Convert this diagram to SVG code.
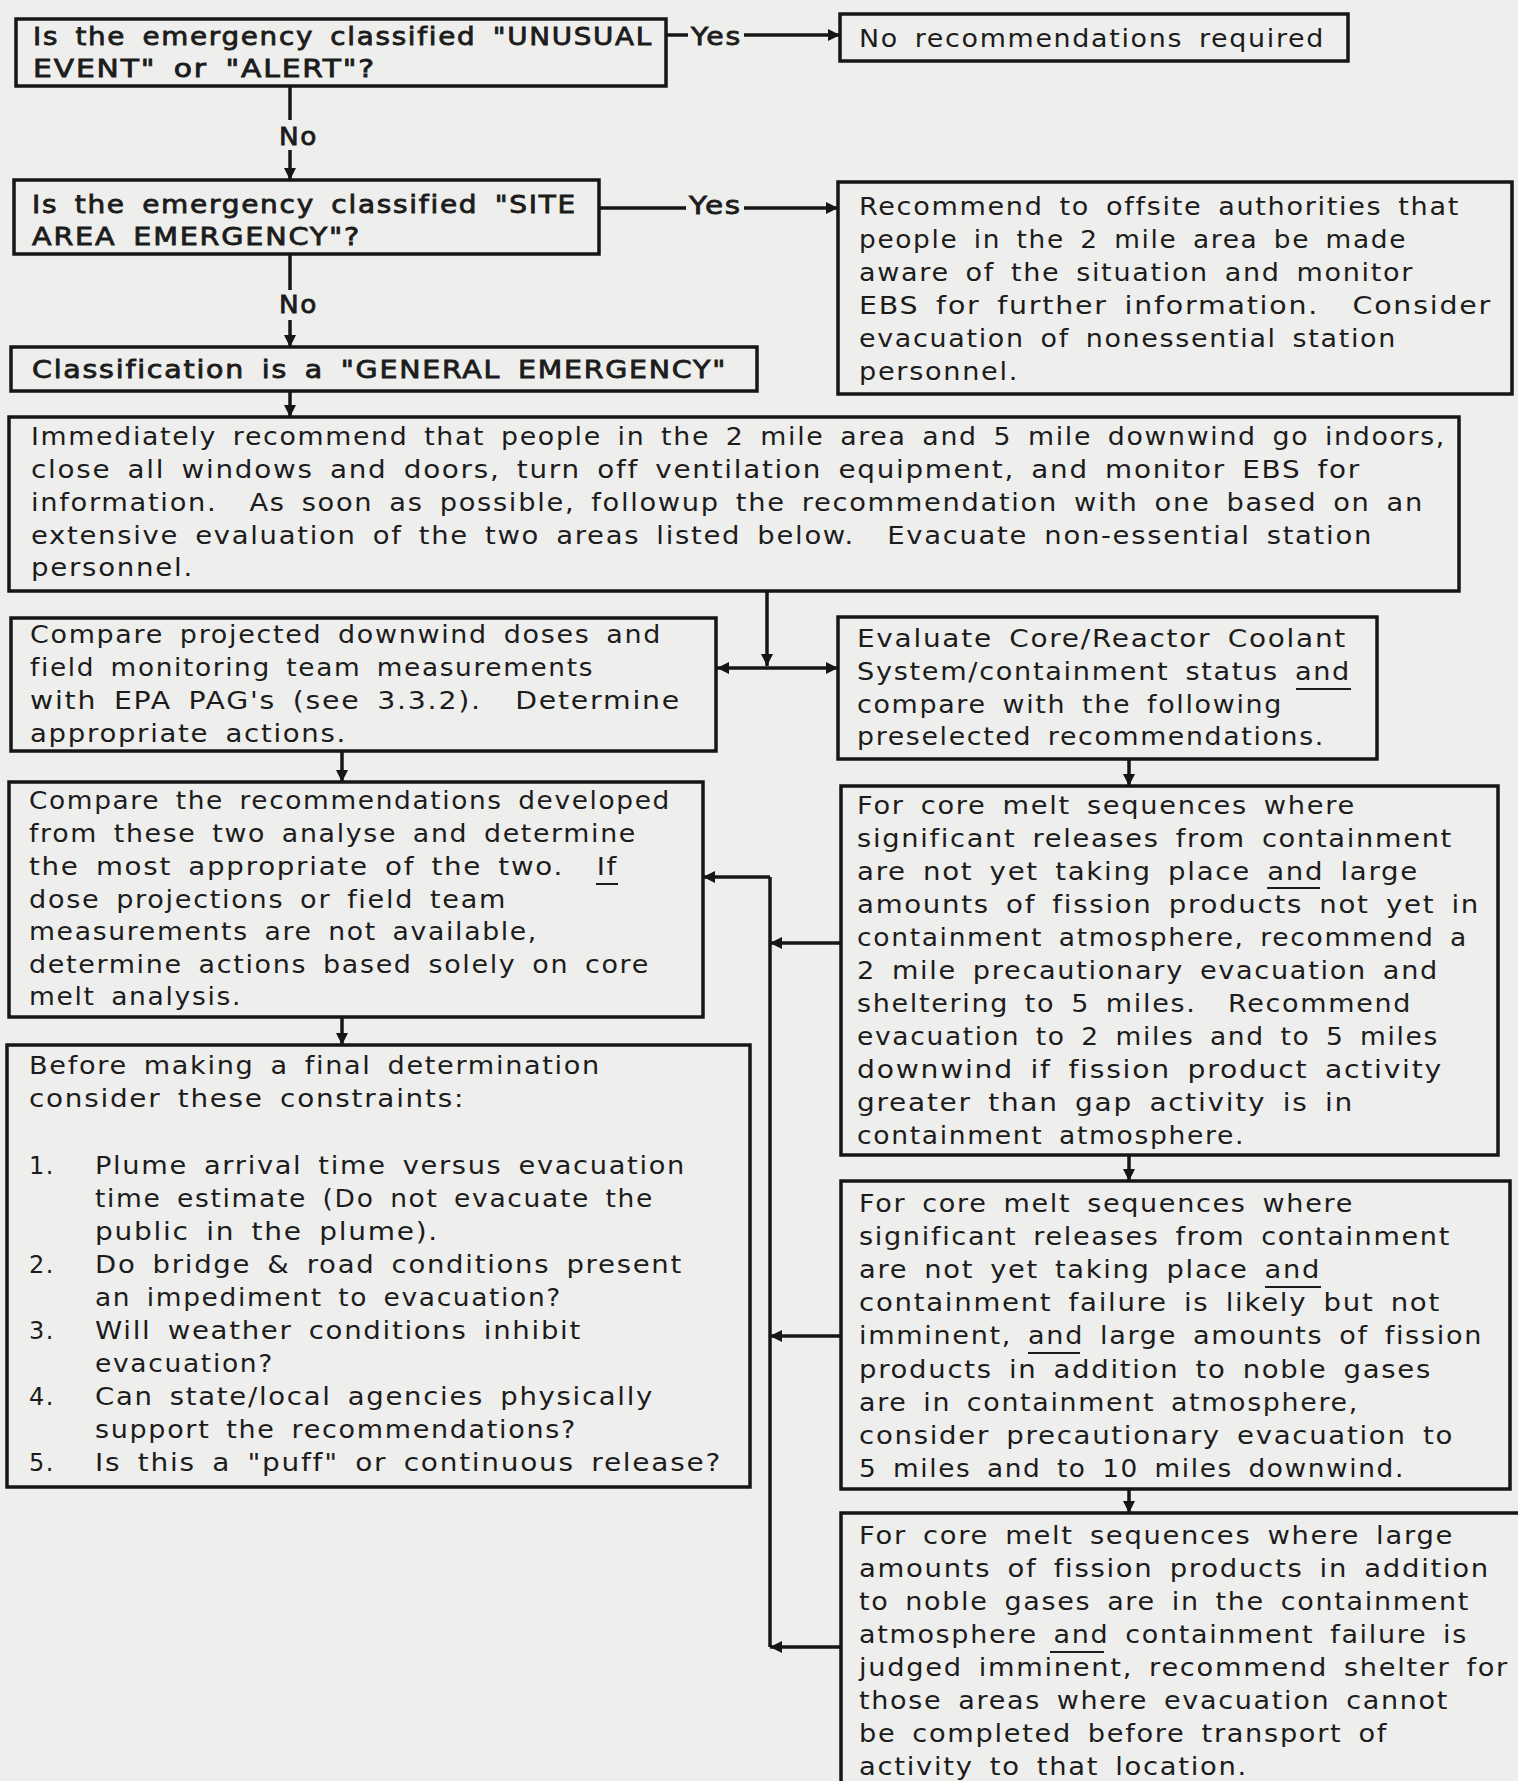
<svg xmlns="http://www.w3.org/2000/svg" width="1518" height="1781" viewBox="0 0 1518 1781">
<style>
.bx{fill:none;stroke:#161616;stroke-width:3.5}
.t{font-family:"DejaVu Sans",sans-serif;font-size:24px;fill:#1c1c1c;letter-spacing:1.5px;word-spacing:5px;white-space:pre}
.hv{stroke:#1c1c1c;stroke-width:0.8}
.cn{stroke:#161616;stroke-width:3.5;fill:none}
.ul{stroke:#1c1c1c;stroke-width:2}
</style>
<defs>
<marker id="ah" viewBox="0 0 10 10" refX="10" refY="5" markerWidth="15" markerHeight="12" markerUnits="userSpaceOnUse" orient="auto">
<path d="M0,0 L10,5 L0,10 z" fill="#161616"/>
</marker>
</defs>
<rect width="1518" height="1781" fill="#eeeeec"/>

<g id="connectors">
<path class="cn" d="M666,35 H688"/>
<path class="cn" d="M744,35 H840" marker-end="url(#ah)"/>
<path class="cn" d="M290,86 V120"/>
<path class="cn" d="M290,150 V180" marker-end="url(#ah)"/>
<path class="cn" d="M599,208 H686"/>
<path class="cn" d="M744,208 H838" marker-end="url(#ah)"/>
<path class="cn" d="M290,255 V290"/>
<path class="cn" d="M290,320 V347" marker-end="url(#ah)"/>
<path class="cn" d="M290,391 V417" marker-end="url(#ah)"/>
<path class="cn" d="M767,591 V666" marker-end="url(#ah)"/>
<path class="cn" d="M767,668 H717" marker-end="url(#ah)"/>
<path class="cn" d="M767,668 H838" marker-end="url(#ah)"/>
<path class="cn" d="M342,751 V782" marker-end="url(#ah)"/>
<path class="cn" d="M1129,759 V786" marker-end="url(#ah)"/>
<path class="cn" d="M1129,1155 V1181" marker-end="url(#ah)"/>
<path class="cn" d="M1129,1489 V1513" marker-end="url(#ah)"/>
<path class="cn" d="M342,1017 V1045" marker-end="url(#ah)"/>
<path class="cn" d="M770,877 V1647"/>
<path class="cn" d="M770,877 H703" marker-end="url(#ah)"/>
<path class="cn" d="M841,943 H770" marker-end="url(#ah)"/>
<path class="cn" d="M841,1336 H770" marker-end="url(#ah)"/>
<path class="cn" d="M841,1647 H770" marker-end="url(#ah)"/>
<text class="t hv" x="691" y="45" textLength="51" lengthAdjust="spacingAndGlyphs">Yes</text>
<text class="t hv" x="689" y="214" textLength="53" lengthAdjust="spacingAndGlyphs">Yes</text>
<text class="t hv" x="279" y="145" textLength="39" lengthAdjust="spacingAndGlyphs">No</text>
<text class="t hv" x="279" y="313" textLength="39" lengthAdjust="spacingAndGlyphs">No</text>
</g>

<g id="nodeA">
<rect class="bx" x="16" y="19" width="650" height="67"/>
<text class="t hv" x="33" y="45" textLength="620" lengthAdjust="spacingAndGlyphs">Is the emergency classified "UNUSUAL</text>
<text class="t hv" x="33" y="77" textLength="343" lengthAdjust="spacingAndGlyphs">EVENT" or "ALERT"?</text>
</g>

<g id="nodeB">
<rect class="bx" x="840" y="14" width="508" height="47"/>
<text class="t" x="859" y="47" textLength="466" lengthAdjust="spacingAndGlyphs">No recommendations required</text>
</g>

<g id="nodeC">
<rect class="bx" x="14" y="180" width="585" height="74"/>
<text class="t hv" x="32" y="213" textLength="545" lengthAdjust="spacingAndGlyphs">Is the emergency classified "SITE</text>
<text class="t hv" x="32" y="245" textLength="329" lengthAdjust="spacingAndGlyphs">AREA EMERGENCY"?</text>
</g>

<g id="nodeD">
<rect class="bx" x="838" y="182" width="674" height="212"/>
<text class="t" x="859" y="215" textLength="601" lengthAdjust="spacingAndGlyphs">Recommend to offsite authorities that</text>
<text class="t" x="859" y="248" textLength="548" lengthAdjust="spacingAndGlyphs">people in the 2 mile area be made</text>
<text class="t" x="859" y="281" textLength="555" lengthAdjust="spacingAndGlyphs">aware of the situation and monitor</text>
<text class="t" x="859" y="314" textLength="633" lengthAdjust="spacingAndGlyphs">EBS for further information.  Consider</text>
<text class="t" x="859" y="347" textLength="538" lengthAdjust="spacingAndGlyphs">evacuation of nonessential station</text>
<text class="t" x="859" y="380" textLength="160" lengthAdjust="spacingAndGlyphs">personnel.</text>
</g>

<g id="nodeE">
<rect class="bx" x="11" y="347" width="746" height="44"/>
<text class="t hv" x="32" y="378" textLength="695" lengthAdjust="spacingAndGlyphs">Classification is a "GENERAL EMERGENCY"</text>
</g>

<g id="nodeF">
<rect class="bx" x="9" y="417" width="1450" height="174"/>
<text class="t" x="31" y="445" textLength="1415" lengthAdjust="spacingAndGlyphs">Immediately recommend that people in the 2 mile area and 5 mile downwind go indoors,</text>
<text class="t" x="31" y="478" textLength="1330" lengthAdjust="spacingAndGlyphs">close all windows and doors, turn off ventilation equipment, and monitor EBS for</text>
<text class="t" x="31" y="511" textLength="1393" lengthAdjust="spacingAndGlyphs">information.  As soon as possible, followup the recommendation with one based on an</text>
<text class="t" x="31" y="544" textLength="1342" lengthAdjust="spacingAndGlyphs">extensive evaluation of the two areas listed below.  Evacuate non-essential station</text>
<text class="t" x="31" y="576" textLength="163" lengthAdjust="spacingAndGlyphs">personnel.</text>
</g>

<g id="nodeG">
<rect class="bx" x="11" y="618" width="705" height="133"/>
<text class="t" x="30" y="643" textLength="632" lengthAdjust="spacingAndGlyphs">Compare projected downwind doses and</text>
<text class="t" x="30" y="676" textLength="564" lengthAdjust="spacingAndGlyphs">field monitoring team measurements</text>
<text class="t" x="30" y="709" textLength="651" lengthAdjust="spacingAndGlyphs">with EPA PAG's (see 3.3.2).  Determine</text>
<text class="t" x="30" y="742" textLength="317" lengthAdjust="spacingAndGlyphs">appropriate actions.</text>
</g>

<g id="nodeH">
<rect class="bx" x="838" y="617" width="539" height="142"/>
<text class="t" x="857" y="647" textLength="490" lengthAdjust="spacingAndGlyphs">Evaluate Core/Reactor Coolant</text>
<text class="t" x="857" y="680" textLength="494" lengthAdjust="spacingAndGlyphs">System/containment status and</text>
<line class="ul" x1="1296" y1="689" x2="1351" y2="689"/>
<text class="t" x="857" y="713" textLength="426" lengthAdjust="spacingAndGlyphs">compare with the following</text>
<text class="t" x="857" y="745" textLength="468" lengthAdjust="spacingAndGlyphs">preselected recommendations.</text>
</g>

<g id="nodeI">
<rect class="bx" x="9" y="782" width="694" height="235"/>
<text class="t" x="29" y="809" textLength="642" lengthAdjust="spacingAndGlyphs">Compare the recommendations developed</text>
<text class="t" x="29" y="842" textLength="608" lengthAdjust="spacingAndGlyphs">from these two analyse and determine</text>
<text class="t" x="29" y="875" textLength="589" lengthAdjust="spacingAndGlyphs">the most appropriate of the two.  If</text>
<line class="ul" x1="596" y1="884" x2="618" y2="884"/>
<text class="t" x="29" y="908" textLength="478" lengthAdjust="spacingAndGlyphs">dose projections or field team</text>
<text class="t" x="29" y="940" textLength="509" lengthAdjust="spacingAndGlyphs">measurements are not available,</text>
<text class="t" x="29" y="973" textLength="621" lengthAdjust="spacingAndGlyphs">determine actions based solely on core</text>
<text class="t" x="29" y="1005" textLength="213" lengthAdjust="spacingAndGlyphs">melt analysis.</text>
</g>

<g id="nodeJ">
<rect class="bx" x="841" y="786" width="657" height="369"/>
<text class="t" x="857" y="814" textLength="499" lengthAdjust="spacingAndGlyphs">For core melt sequences where</text>
<text class="t" x="857" y="847" textLength="596" lengthAdjust="spacingAndGlyphs">significant releases from containment</text>
<text class="t" x="857" y="880" textLength="562" lengthAdjust="spacingAndGlyphs">are not yet taking place and large</text>
<line class="ul" x1="1267" y1="888" x2="1320" y2="888"/>
<text class="t" x="857" y="913" textLength="623" lengthAdjust="spacingAndGlyphs">amounts of fission products not yet in</text>
<text class="t" x="857" y="946" textLength="611" lengthAdjust="spacingAndGlyphs">containment atmosphere, recommend a</text>
<text class="t" x="857" y="979" textLength="582" lengthAdjust="spacingAndGlyphs">2 mile precautionary evacuation and</text>
<text class="t" x="857" y="1012" textLength="555" lengthAdjust="spacingAndGlyphs">sheltering to 5 miles.  Recommend</text>
<text class="t" x="857" y="1045" textLength="582" lengthAdjust="spacingAndGlyphs">evacuation to 2 miles and to 5 miles</text>
<text class="t" x="857" y="1078" textLength="586" lengthAdjust="spacingAndGlyphs">downwind if fission product activity</text>
<text class="t" x="857" y="1111" textLength="497" lengthAdjust="spacingAndGlyphs">greater than gap activity is in</text>
<text class="t" x="857" y="1144" textLength="388" lengthAdjust="spacingAndGlyphs">containment atmosphere.</text>
</g>

<g id="nodeK">
<rect class="bx" x="841" y="1181" width="669" height="308"/>
<text class="t" x="859" y="1212" textLength="495" lengthAdjust="spacingAndGlyphs">For core melt sequences where</text>
<text class="t" x="859" y="1245" textLength="592" lengthAdjust="spacingAndGlyphs">significant releases from containment</text>
<text class="t" x="859" y="1278" textLength="462" lengthAdjust="spacingAndGlyphs">are not yet taking place and</text>
<line class="ul" x1="1265" y1="1287" x2="1321" y2="1287"/>
<text class="t" x="859" y="1311" textLength="582" lengthAdjust="spacingAndGlyphs">containment failure is likely but not</text>
<text class="t" x="859" y="1344" textLength="624" lengthAdjust="spacingAndGlyphs">imminent, and large amounts of fission</text>
<line class="ul" x1="1028" y1="1353" x2="1080" y2="1353"/>
<text class="t" x="859" y="1378" textLength="573" lengthAdjust="spacingAndGlyphs">products in addition to noble gases</text>
<text class="t" x="859" y="1411" textLength="500" lengthAdjust="spacingAndGlyphs">are in containment atmosphere,</text>
<text class="t" x="859" y="1444" textLength="595" lengthAdjust="spacingAndGlyphs">consider precautionary evacuation to</text>
<text class="t" x="859" y="1477" textLength="546" lengthAdjust="spacingAndGlyphs">5 miles and to 10 miles downwind.</text>
</g>

<g id="nodeL">
<rect class="bx" x="841" y="1513" width="720" height="320"/>
<text class="t" x="859" y="1544" textLength="595" lengthAdjust="spacingAndGlyphs">For core melt sequences where large</text>
<text class="t" x="859" y="1577" textLength="631" lengthAdjust="spacingAndGlyphs">amounts of fission products in addition</text>
<text class="t" x="859" y="1610" textLength="611" lengthAdjust="spacingAndGlyphs">to noble gases are in the containment</text>
<text class="t" x="859" y="1643" textLength="609" lengthAdjust="spacingAndGlyphs">atmosphere and containment failure is</text>
<line class="ul" x1="1050" y1="1652" x2="1104" y2="1652"/>
<text class="t" x="859" y="1676" textLength="650" lengthAdjust="spacingAndGlyphs">judged imminent, recommend shelter for</text>
<text class="t" x="859" y="1709" textLength="590" lengthAdjust="spacingAndGlyphs">those areas where evacuation cannot</text>
<text class="t" x="859" y="1742" textLength="529" lengthAdjust="spacingAndGlyphs">be completed before transport of</text>
<text class="t" x="859" y="1775" textLength="389" lengthAdjust="spacingAndGlyphs">activity to that location.</text>
</g>

<g id="nodeM">
<rect class="bx" x="7" y="1045" width="743" height="442"/>
<text class="t" x="29" y="1074" textLength="572" lengthAdjust="spacingAndGlyphs">Before making a final determination</text>
<text class="t" x="29" y="1107" textLength="436" lengthAdjust="spacingAndGlyphs">consider these constraints:</text>
<text class="t" x="29" y="1174">1.</text>
<text class="t" x="95" y="1174" textLength="591" lengthAdjust="spacingAndGlyphs">Plume arrival time versus evacuation</text>
<text class="t" x="95" y="1207" textLength="559" lengthAdjust="spacingAndGlyphs">time estimate (Do not evacuate the</text>
<text class="t" x="95" y="1240" textLength="344" lengthAdjust="spacingAndGlyphs">public in the plume).</text>
<text class="t" x="29" y="1273">2.</text>
<text class="t" x="95" y="1273" textLength="588" lengthAdjust="spacingAndGlyphs">Do bridge &amp; road conditions present</text>
<text class="t" x="95" y="1306" textLength="467" lengthAdjust="spacingAndGlyphs">an impediment to evacuation?</text>
<text class="t" x="29" y="1339">3.</text>
<text class="t" x="95" y="1339" textLength="487" lengthAdjust="spacingAndGlyphs">Will weather conditions inhibit</text>
<text class="t" x="95" y="1372" textLength="179" lengthAdjust="spacingAndGlyphs">evacuation?</text>
<text class="t" x="29" y="1405">4.</text>
<text class="t" x="95" y="1405" textLength="559" lengthAdjust="spacingAndGlyphs">Can state/local agencies physically</text>
<text class="t" x="95" y="1438" textLength="482" lengthAdjust="spacingAndGlyphs">support the recommendations?</text>
<text class="t" x="29" y="1471">5.</text>
<text class="t" x="95" y="1471" textLength="627" lengthAdjust="spacingAndGlyphs">Is this a "puff" or continuous release?</text>
</g>
</svg>
